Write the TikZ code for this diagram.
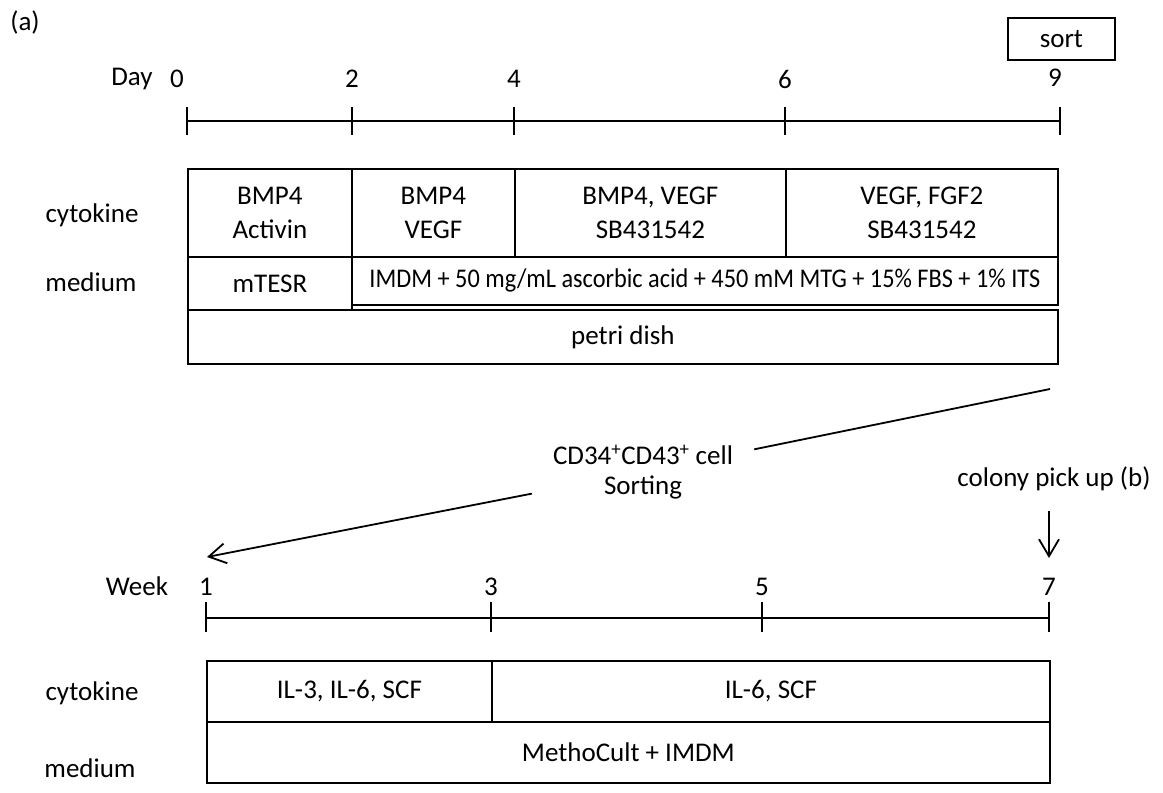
\documentclass[tikz,border=0pt]{standalone}
\usepackage{fontspec}
\usepackage{graphicx}
\setmainfont{Carlito}
\usetikzlibrary{arrows.meta}
\begin{document}
\begin{tikzpicture}[x=1pt,y=-1pt,
  every node/.style={font=\fontsize{27}{34}\selectfont},
  cell/.style={draw, line width=1.8pt, inner sep=0pt, anchor=north west, align=center},
  lbl/.style={inner sep=0pt},
  ln/.style={line width=1.8pt},
  tipx/.style={-{Straight Barb[length=17pt,width=20pt,line width=1.8pt]}}
]
\useasboundingbox (0,0) rectangle (1163,793);

\node[lbl] (tagA) at (25,22) {(a)};

% ---- top timeline ----
\node[lbl] (day) at (132,79) {Day};
\node[lbl] (n0) at (177,79) {0};
\node[lbl] (n2) at (352,79) {2};
\node[lbl] (n4) at (514,79) {4};
\node[lbl] (n6) at (785,79) {6};
\node[lbl] (n9) at (1055,78) {9};
\node[draw, line width=1.8pt, inner sep=0pt, anchor=north west, minimum width=107pt, minimum height=42pt] (sort) at (1007,17) {sort};
\coordinate (t0) at (187,121);
\coordinate (t9) at (1060,121);
\draw[ln] (t0) -- (t9);
\foreach \x in {187,352,514,785,1060} \draw[ln] (\x,107) -- (\x,135);

\node[lbl] (cyt1) at (92,215) {cytokine};
\node[lbl] (med1) at (91,282) {medium};

\node[cell, minimum width=164pt, minimum height=88pt] (c1) at (187,168) {BMP4\\Activin};
\node[cell, minimum width=163pt, minimum height=88pt] (c2) at (351,168) {BMP4\\VEGF};
\node[cell, minimum width=271pt, minimum height=88pt] (c3) at (514,168) {BMP4, VEGF\\SB431542};
\node[cell, minimum width=272pt, minimum height=88pt] (c4) at (785,168) {VEGF, FGF2\\SB431542};

\node[cell, minimum width=164pt, minimum height=53pt] (m1) at (187,256) {mTESR};
\node[cell, minimum width=706pt, minimum height=48pt] (m2) at (351,256) {\scalebox{0.9}[1]{IMDM + 50 mg/mL ascorbic acid + 450 mM MTG + 15\% FBS + 1\% ITS}};
\node[cell, minimum width=870pt, minimum height=54pt] (petri) at (187,309) {petri dish};

% ---- sorting ----
\coordinate (sortfrom) at (1050,389);
\coordinate (sorttip) at (207,557);
\node[align=center, inner xsep=21pt, inner ysep=2pt, font=\fontsize{27}{30}\selectfont] (sorting) at (643,472) {CD34\textsuperscript{+}CD43\textsuperscript{+} cell\\Sorting};
\draw[ln] (sortfrom) -- (sorting);
\draw[ln, tipx] (sorting) -- (sorttip);

\node[lbl] (colony) at (1054,479) {colony pick up (b)};
\coordinate (pickfrom) at (1049,511);
\coordinate (picktip) at (1049,558);
\draw[ln, tipx] (pickfrom) -- (picktip);

% ---- bottom timeline ----
\node[lbl] (week) at (137,586) {Week};
\node[lbl] (w1) at (206,587) {1};
\node[lbl] (w3) at (491,587) {3};
\node[lbl] (w5) at (762,587) {5};
\node[lbl] (w7) at (1049,587) {7};
\coordinate (u1) at (206,618);
\coordinate (u7) at (1049,618);
\draw[ln] (u1) -- (u7);
\foreach \x in {206,491,762,1049} \draw[ln] (\x,602) -- (\x,632);

\node[lbl] (cyt2) at (92,693) {cytokine};
\node[lbl] (med2) at (90,768) {medium};

\node[cell, minimum width=285pt, minimum height=61pt] (k1) at (206,660) {IL-3, IL-6, SCF};
\node[cell, minimum width=558pt, minimum height=61pt] (k2) at (491,660) {IL-6, SCF};
\node[cell, minimum width=843pt, minimum height=61pt] (k3) at (206,721) {MethoCult + IMDM};
\end{tikzpicture}
\end{document}
